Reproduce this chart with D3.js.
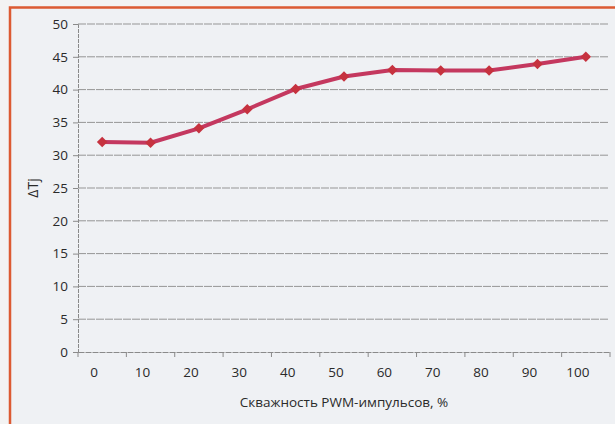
<!DOCTYPE html>
<html><head><meta charset="utf-8">
<script src="https://cdn.jsdelivr.net/npm/d3@7"></script>
<style>
html,body{margin:0;padding:0;background:#f3f3f3;}
svg{display:block;}
text{font-family:"Open Sans","Noto Sans",sans-serif;fill:#2a2a2a;}
</style></head>
<body>
<svg id="c" width="615" height="424"></svg>
<script>
const categories = ["0","10","20","30","40","50","60","70","80","90","100"];
const deltaTj = [32.0, 31.9, 34.1, 37.0, 40.1, 42.0, 43.0, 42.9, 42.9, 43.9, 45.0];
const yTicks = [0,5,10,15,20,25,30,35,40,45,50];
const xTitle = "Скважность PWM-импульсов, %";
const yTitle = "ΔTj";

const svg = d3.select("#c");
// frame
svg.append("rect").attr("x",10).attr("y",7.5).attr("width",640).attr("height",430)
  .attr("fill","#eff1f4").attr("stroke","#dc5a32").attr("stroke-width",2.5);

const m = {l:78, r:610, t:24, b:352};
const x = d3.scaleBand().domain(categories).range([m.l, m.r]).paddingInner(0).paddingOuter(0);
const y = d3.scaleLinear().domain([0,50]).range([m.b, m.t]);

// gridlines
svg.append("g").selectAll("line").data(yTicks.filter(d=>d>0)).join("line")
  .attr("x1",m.l).attr("x2",608).attr("y1",d=>y(d)).attr("y2",d=>y(d))
  .attr("stroke","#959595").attr("stroke-width",1).attr("stroke-dasharray","8,1");

// y axis
const ya = svg.append("g").attr("transform",`translate(${m.l},0)`)
  .call(d3.axisLeft(y).tickValues(yTicks).tickSize(5).tickPadding(5));
ya.select(".domain").attr("stroke","#8a8a8a").attr("stroke-dasharray","4,1");
ya.selectAll(".tick line").attr("stroke","#8a8a8a");
ya.selectAll("text").attr("font-size",13.5).style("fill","#2a2a2a").attr("x",-10)
  .style("font-family","'Open Sans','Noto Sans',sans-serif");

// x axis
const xa = svg.append("g").attr("transform",`translate(0,${m.b})`)
  .call(d3.axisBottom(x).tickSize(0).tickPadding(15));
xa.select(".domain").attr("stroke","#8a8a8a").attr("stroke-dasharray","6,1");
xa.selectAll(".tick text").attr("font-size",13.5).style("fill","#2a2a2a").attr("dx",-8)
  .style("font-family","'Open Sans','Noto Sans',sans-serif");
// band boundary ticks
const bounds = categories.map(c=>x(c)).concat([x.range()[1]]);
svg.append("g").selectAll("line").data(bounds).join("line")
  .attr("x1",d=>d).attr("x2",d=>d).attr("y1",m.b).attr("y2",m.b+5)
  .attr("stroke","#8a8a8a");

// titles
svg.append("text").attr("x",(m.l+m.r)/2).attr("y",407).attr("text-anchor","middle")
  .attr("font-size",13.5).text(xTitle);
svg.append("text").attr("transform",`translate(38,${(m.t+m.b)/2}) rotate(-90)`)
  .attr("text-anchor","middle").attr("font-size",14).text(yTitle);

// line
const cx = d => x(d) + x.bandwidth()/2;
svg.append("path").datum(deltaTj.map((v,i)=>[cx(categories[i]), y(v)]))
  .attr("d", d3.line()).attr("fill","none").attr("stroke","#c4385f")
  .attr("stroke-width",4).attr("stroke-linejoin","round");
svg.append("g").selectAll("path").data(deltaTj).join("path")
  .attr("transform",(v,i)=>`translate(${cx(categories[i])},${y(v)}) rotate(45)`)
  .attr("d", d3.symbol(d3.symbolSquare, 56)).attr("fill","#c6323f");
</script>
</body></html>
